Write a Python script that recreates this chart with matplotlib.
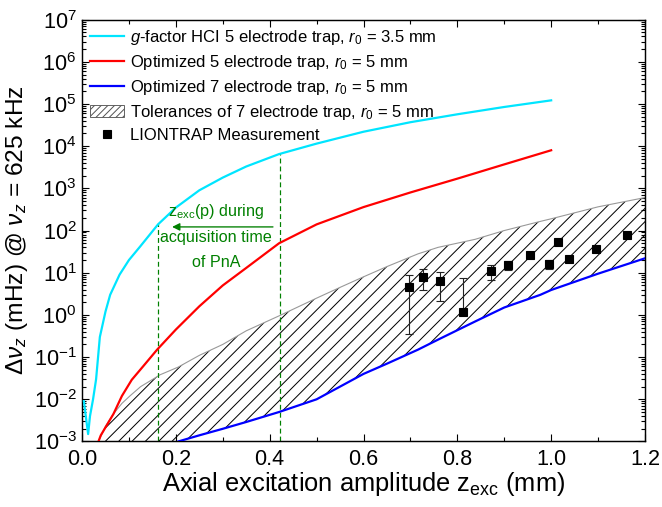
import numpy as np
import matplotlib
matplotlib.use("Agg")
import matplotlib.pyplot as plt
from matplotlib.lines import Line2D
from matplotlib.patches import Patch
from matplotlib.ticker import LogLocator, MultipleLocator, NullFormatter

plt.rcParams['font.family'] = ['Liberation Sans', 'DejaVu Sans']
plt.rcParams['mathtext.fontset'] = 'custom'
plt.rcParams['mathtext.rm'] = 'Liberation Sans'
plt.rcParams['mathtext.it'] = 'Liberation Sans:italic'
plt.rcParams['mathtext.bf'] = 'Liberation Sans:bold'
plt.rcParams['hatch.linewidth'] = 0.9

# ---- data ----
# g-factor HCI 5 electrode trap (cyan)
hci_x = [0.004, 0.008, 0.013, 0.017, 0.0235, 0.03, 0.038, 0.05, 0.06, 0.08, 0.1, 0.124,
         0.162, 0.2, 0.25, 0.3, 0.35, 0.42, 0.5, 0.6, 0.7, 0.8, 0.9, 1.0]
hci_y = [9e-3, 4e-3, 1.5e-3, 4e-3, 1e-2, 3e-2, 0.3, 1.2, 3, 9, 20, 42,
         140, 350, 900, 1.8e3, 3.3e3, 6.5e3, 1.15e4, 2.2e4, 3.7e4, 5.7e4, 8.5e4, 1.22e5]

# Optimized 5 electrode trap (red)
opt5_x = [0.035, 0.04, 0.067, 0.085, 0.106, 0.13, 0.16, 0.2, 0.25, 0.3, 0.35, 0.42,
          0.5, 0.6, 0.7, 0.8, 0.9, 1.0]
opt5_y = [1e-3, 1.4e-3, 4.5e-3, 1.2e-2, 2.9e-2, 6e-2, 0.15, 0.45, 1.6, 5, 13, 50,
          140, 360, 800, 1.7e3, 3.7e3, 8.0e3]

# Optimized 7 electrode trap (blue) and tolerance band (shared grid)
z7 = [0.035, 0.05, 0.067, 0.085, 0.102, 0.125, 0.149, 0.166, 0.205, 0.25, 0.3, 0.35,
      0.42, 0.5, 0.55, 0.6, 0.65, 0.716, 0.759, 0.838, 0.9, 0.977, 1.0, 1.1, 1.2]
opt7_y = [2e-5, 3e-5, 5e-5, 7e-5, 1e-4, 1.7e-4, 3.5e-4, 5.5e-4, 1.0e-3, 1.4e-3, 2.0e-3, 2.9e-3,
          5.0e-3, 1.0e-2, 2.0e-2, 4.0e-2, 7.0e-2, 0.15, 0.26, 0.7, 1.5, 3.0, 3.9, 9.5, 22]
tol_hi = [1e-3, 2.3e-3, 4.5e-3, 8e-3, 0.012, 0.02, 0.029, 0.038, 0.058, 0.11, 0.2, 0.42,
          0.95, 2.5, 4.5, 8, 14, 28, 40, 62, 100, 165, 190, 365, 605]

# LIONTRAP measurement
meas_x = [0.698, 0.726, 0.764, 0.812, 0.871, 0.908, 0.955, 0.996, 1.014, 1.038, 1.096, 1.161]
meas_y = [4.6, 8.1, 6.5, 1.16, 11.1, 15.4, 25.7, 16.0, 53, 21.7, 36, 77]
meas_err_lo = [4.25, 4.2, 4.4, 0.0, 4.3, 3.7, 3, 4, 3, 3, 3, 3]
meas_err_hi = [4.3, 4.1, 4.2, 6.5, 4.3, 3.7, 3, 4, 3, 3, 3, 3]

# acquisition-time excitation range
zexc_lines = [0.162, 0.422]
zexc_tops = [150, 7000]

legend_labels = [
    r'$g$-factor HCI 5 electrode trap, $r_0$ = 3.5 mm',
    r'Optimized 5 electrode trap, $r_0$ = 5 mm',
    r'Optimized 7 electrode trap, $r_0$ = 5 mm',
    r'Tolerances of 7 electrode trap, $r_0$ = 5 mm',
    'LIONTRAP Measurement',
]

DPI = 80
fig = plt.figure(figsize=(662 / DPI, 507 / DPI), dpi=DPI)
ax = fig.add_axes([0.1239, 0.1292, 0.9743 - 0.1239, 0.9613 - 0.1292])
ax.set_yscale('log')

green = '#008000'

ax.fill_between(z7, opt7_y, tol_hi, facecolor='white', edgecolor='black',
                hatch='//', linewidth=0, zorder=1)
ax.plot(z7, tol_hi, color='#999999', lw=1.0, zorder=2)

ax.vlines(zexc_lines, 1e-3, zexc_tops, colors=green, linestyles=(0, (4, 2.5)), lw=1.1, zorder=2)

ax.plot(hci_x, hci_y, color='#00E5FF', lw=2.0, zorder=3)
ax.plot(opt5_x, opt5_y, color='#FF0000', lw=2.0, zorder=3)
ax.plot(z7, opt7_y, color='#0000FF', lw=2.0, zorder=3)

ax.errorbar(meas_x, meas_y, yerr=[meas_err_lo, meas_err_hi], fmt='none',
            ecolor='#222222', elinewidth=1.0, capsize=4, capthick=1.0, zorder=4)
ax.plot(meas_x, meas_y, 's', color='black', ms=8, zorder=5)

# annotation
ax.text(0.238, 0.5463, r'z$_{\mathrm{exc}}$(p) during', transform=ax.transAxes,
        ha='center', va='center', color=green, fontsize=14.5)
ax.text(0.238, 0.4847, 'acquisition time', transform=ax.transAxes,
        ha='center', va='center', color=green, fontsize=14.5)
ax.text(0.238, 0.4254, 'of PnA', transform=ax.transAxes,
        ha='center', va='center', color=green, fontsize=14.5)
ax.annotate('', xy=(0.192, 122), xytext=(0.407, 122),
            arrowprops=dict(arrowstyle='-|>', color=green, lw=1.2,
                            mutation_scale=14, shrinkA=0, shrinkB=0))

ax.set_xlim(0, 1.2)
ax.set_ylim(1e-3, 1e7)
ax.xaxis.set_minor_locator(MultipleLocator(0.1))
ax.set_xticks([0.0, 0.2, 0.4, 0.6, 0.8, 1.0, 1.2])
ax.set_xticklabels(['0.0', '0.2', '0.4', '0.6', '0.8', '1.0', '1.2'])
ax.yaxis.set_major_locator(LogLocator(base=10, numticks=20))
ax.yaxis.set_minor_locator(LogLocator(base=10, subs=np.arange(2, 10), numticks=20))
ax.yaxis.set_minor_formatter(NullFormatter())

ax.tick_params(which='both', direction='in', top=True, right=True, width=1.0)
ax.tick_params(which='major', length=6, labelsize=19.5, pad=5)
ax.tick_params(axis='x', which='major', pad=7)
ax.tick_params(which='minor', length=3.5)
for s in ax.spines.values():
    s.set_linewidth(1.3)

ax.set_xlabel(r'Axial excitation amplitude z$_{\mathrm{exc}}$ (mm)', fontsize=23, labelpad=0)
ax.set_ylabel(r'$\Delta\nu_z$ (mHz) @ $\nu_z$ = 625 kHz', fontsize=22, labelpad=3)

handles = [
    Line2D([], [], color='#00E5FF', lw=2.0),
    Line2D([], [], color='#FF0000', lw=2.0),
    Line2D([], [], color='#0000FF', lw=2.0),
    Patch(facecolor='white', edgecolor='#555555', hatch='////', lw=0.8),
    Line2D([], [], ls='none', marker='s', color='black', ms=7),
]
ax.legend(handles, legend_labels, loc='upper left', frameon=False, fontsize=15,
          handlelength=2.0, handletextpad=0.35, labelspacing=0.36,
          borderaxespad=0.3, borderpad=0.2)

fig.savefig('out.png', dpi=DPI)
